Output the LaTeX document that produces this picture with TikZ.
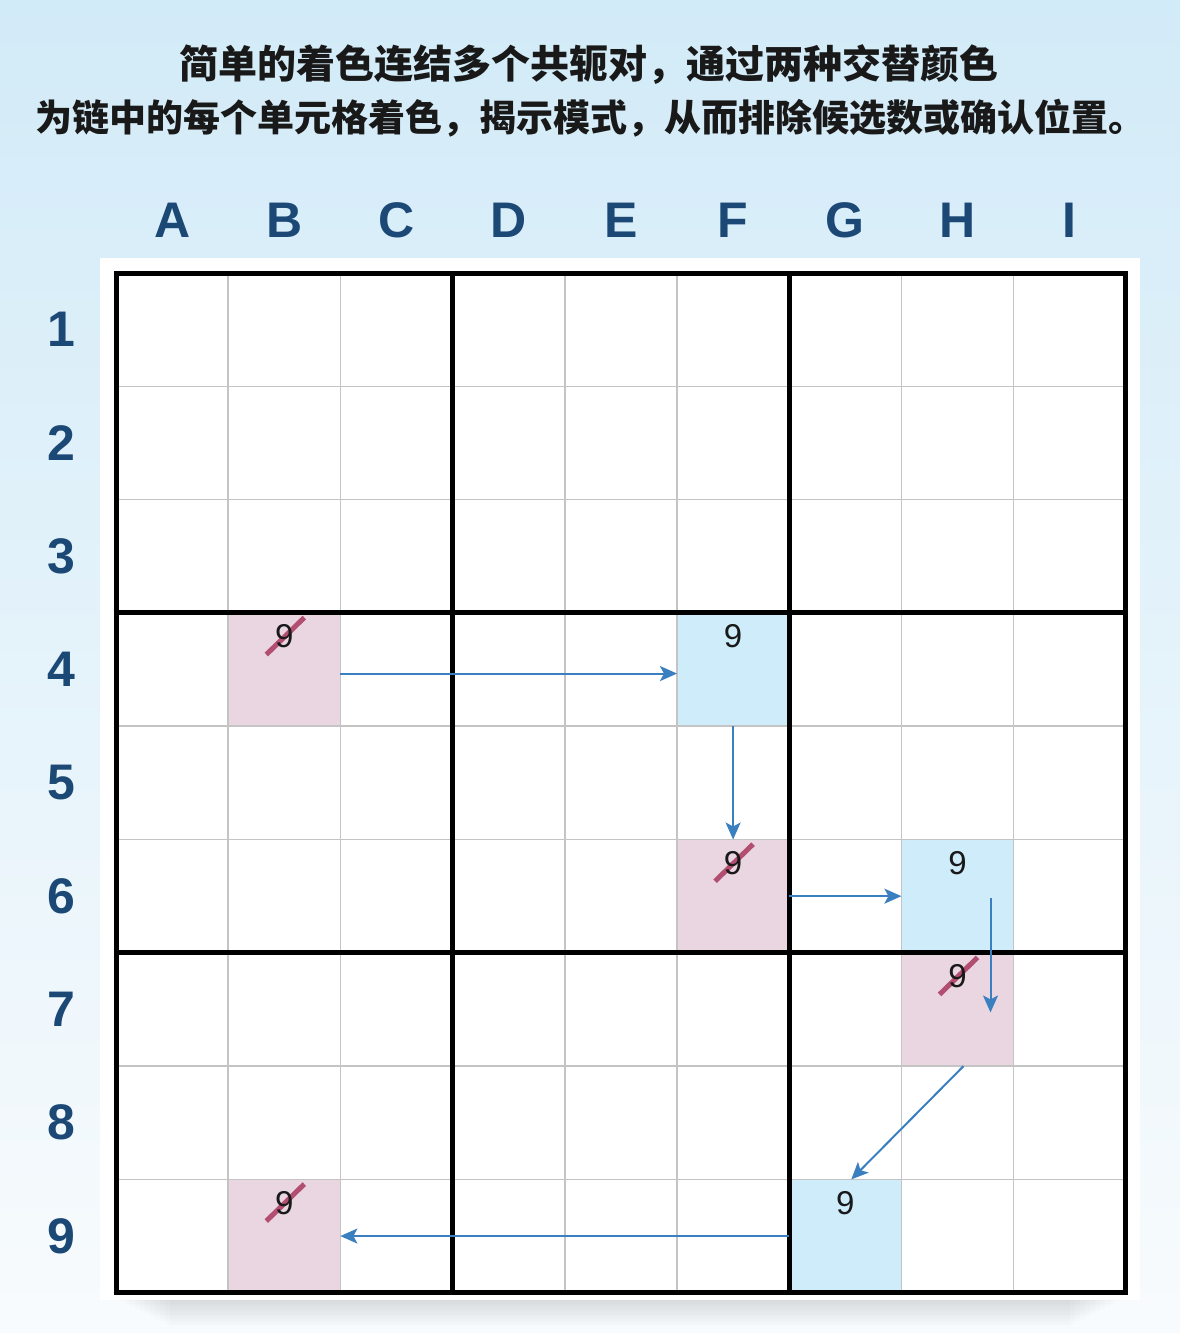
\documentclass[tikz,border=0pt]{standalone}
\usepackage{fontspec}
\setmainfont{Liberation Sans}
\newfontfamily\cjk{Noto Sans CJK SC}
\usepackage{tikz}
\usetikzlibrary{arrows.meta,positioning}

\definecolor{bgtop}{RGB}{210,235,248}
\definecolor{bgmid}{RGB}{226,241,250}
\definecolor{bgbot}{RGB}{248,251,253}
\definecolor{labelblue}{RGB}{28,72,118}
\definecolor{candblue}{RGB}{206,236,249}
\definecolor{candpink}{RGB}{233,214,224}
\definecolor{strikered}{RGB}{178,78,112}
\definecolor{chainblue}{RGB}{58,128,192}
\definecolor{gridgray}{RGB}{196,196,196}

\begin{document}
\begin{tikzpicture}[
    x=0.5pt, y=-0.5pt,
    cell/.style={rectangle, minimum width=56.1pt, minimum height=56.65pt, inner sep=0pt, outer sep=0pt},
    collabel/.style={inner sep=0pt, text=labelblue, font=\fontsize{25pt}{25pt}\selectfont\bfseries},
    titletext/.style={inner sep=0pt, text=black!90, font=\cjk\bfseries},
    cand/.style={inner sep=0pt, text=black!90, font=\fontsize{16.5pt}{16.5pt}\selectfont},
    strikeout/.style={draw=strikered, line width=2.5pt},
    thinline/.style={draw=gridgray, line width=0.75pt},
    boxline/.style={draw=black, line width=2.5pt},
    chain/.style={draw=chainblue, line width=1pt, -{Stealth[length=8.5pt, width=7.5pt, inset=2pt]}}
]
    % Background
    \useasboundingbox (0,0) rectangle (1180,1333);
    \shade[top color=bgtop, middle color=bgmid, bottom color=bgbot] (0,0) rectangle (1180,1333);

    % Title
    \node[titletext, font=\cjk\bfseries\fontsize{19.5pt}{19.5pt}\selectfont] (title1) at (589,65) {简单的着色连结多个共轭对，通过两种交替颜色};
    \node[titletext, font=\cjk\bfseries\fontsize{18.5pt}{18.5pt}\selectfont] (title2) at (590,118) {为链中的每个单元格着色，揭示模式，从而排除候选数或确认位置。};

    % Panel with soft shadow
    \foreach \k in {1,...,12}
        \fill[black, opacity=0.012] ({110+5*\k},{262}) rectangle ({1130-5*\k},{1296+2.5*\k});
    \fill[white] (100,258) rectangle (1140,1300);

    % Cells
    \foreach \col [count=\i] in {A,B,C,D,E,F,G,H,I}
        \foreach \row in {1,...,9}
            \node[cell] (\col\row) at ({116+(\i-0.5)*112.2},{273+(\row-0.5)*113.3}) {};

    % Labels
    \foreach \col in {A,B,C,D,E,F,G,H,I}
        \node[collabel, above=17.5pt of \col1] (col\col) {\col};
    \foreach \row in {1,...,9}
        \node[collabel, left=20pt of A\row] (row\row) {\row};

    % Coloured cells
    \foreach \c/\k in {B4/candpink, F4/candblue, F6/candpink, H6/candblue, H7/candpink, G9/candblue, B9/candpink}
        \fill[\k] (\c.north west) rectangle (\c.south east);

    % Grid
    \foreach \i in {1,2,4,5,7,8} {
        \draw[thinline] ({116+\i*112.2},273) -- ({116+\i*112.2},1293);
        \draw[thinline] (116,{273+\i*113.3}) -- (1126,{273+\i*113.3});
    }
    \foreach \i in {3,6} {
        \draw[boxline] ({116+\i*112.2},273) -- ({116+\i*112.2},1293);
        \draw[boxline] (116,{273+\i*113.3}) -- (1126,{273+\i*113.3});
    }
    \draw[boxline] (A1.north west) rectangle (I9.south east);

    % Candidates
    \foreach \c in {B4,F6,H7,B9}
        \draw[strikeout] ([shift={(-18,-15)}]\c.center) -- ([shift={(20,-52)}]\c.center);
    \foreach \c in {B4,F4,F6,H6,H7,G9,B9}
        \node[cand] (n\c) at ([shift={(0,-33)}]\c.center) {9};

    % Chain
    \draw[chain] ([shift={(0,4)}]B4.east) -- ([shift={(0,4)}]F4.west);
    \draw[chain] (F4.south) -- (F6.north);
    \draw[chain] (F6.east) -- (H6.west);
    \draw[chain] ([shift={(33,2)}]H6.center) -- ([shift={(33,3)}]H7.center);
    \draw[chain] ([shift={(6,0)}]H7.south) -- ([shift={(6,0)}]G9.north);
    \draw[chain] (G9.west) -- (B9.east);
\end{tikzpicture}
\end{document}
